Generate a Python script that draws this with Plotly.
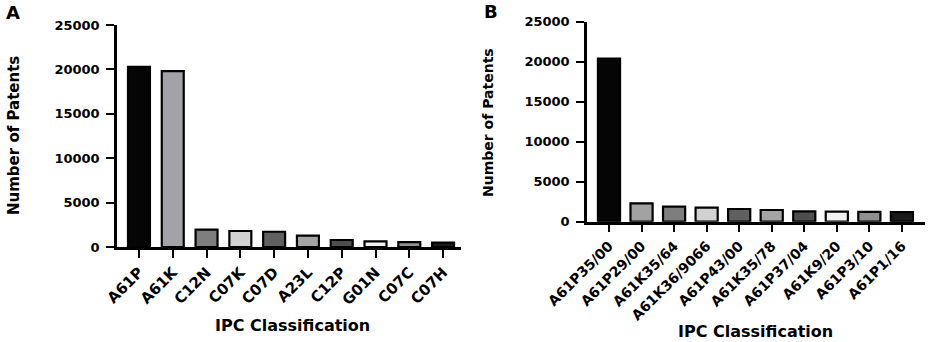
import plotly.graph_objects as go

# ---- data ----
cats_a = ["A61P", "A61K", "C12N", "C07K", "C07D", "A23L", "C12P", "G01N", "C07C", "C07H"]
vals_a = [20300, 19800, 1950, 1800, 1720, 1270, 790, 640, 560, 490]
cats_b = ["A61P35/00", "A61P29/00", "A61K35/64", "A61K36/9066", "A61P43/00",
          "A61K35/78", "A61P37/04", "A61K9/20", "A61P3/10", "A61P1/16"]
vals_b = [20400, 2300, 1875, 1750, 1590, 1460, 1300, 1250, 1230, 1200]
colors_a = ["#050505", "#a2a2a8", "#7e7e7e", "#d2d2d2", "#606060",
            "#a4a4a4", "#4e4e4e", "#f2f2f2", "#909090", "#1a1a1a"]
colors_b = ["#050505", "#a2a2a2", "#7e7e7e", "#d2d2d2", "#606060",
            "#a4a4a4", "#4e4e4e", "#f2f2f2", "#909090", "#1a1a1a"]
yticks = [0, 5000, 10000, 15000, 20000, 25000]
ytick_text = ["0", "5000", "10000", "15000", "20000", "25000"]

W, H = 934, 342
FONT = "DejaVu Sans"

fig = go.Figure()
fig.add_trace(go.Bar(x=cats_a, y=vals_a, xaxis="x", yaxis="y", width=0.65,
                     marker=dict(color=colors_a, line=dict(color="black", width=2.2))))
fig.add_trace(go.Bar(x=cats_b, y=vals_b, xaxis="x2", yaxis="y2", width=0.68,
                     marker=dict(color=colors_b, line=dict(color="black", width=2.2))))

def px_x(p): return p / W
def px_y(p): return 1 - p / H

def tf(s):
    return dict(family=FONT, size=s, color="black", weight="bold")

common_x = dict(showline=True, linecolor="black", linewidth=2.5, ticks="outside",
                ticklen=8, tickwidth=2, tickcolor="black", tickangle=-45,
                showgrid=False, zeroline=False, fixedrange=True, automargin=False)
common_y = dict(showline=True, linecolor="black", linewidth=2.5, ticks="outside",
                ticklen=8, tickwidth=2, tickcolor="black", tickvals=yticks,
                ticktext=ytick_text, automargin=False, tickfont=tf(13),
                showgrid=False, zeroline=False, range=[0, 25000], fixedrange=True,
                ticklabelstandoff=4)

fig.update_layout(
    width=W, height=H, margin=dict(l=0, r=0, t=0, b=0, autoexpand=False),
    paper_bgcolor="white", plot_bgcolor="white", showlegend=False,
    xaxis=dict(domain=[px_x(117), px_x(461)], range=[-0.65, 9.53], anchor="y",
               tickfont=tf(15), **common_x),
    yaxis=dict(domain=[px_y(247), px_y(25)], anchor="x", **common_y),
    xaxis2=dict(domain=[px_x(587), px_x(925)], range=[-0.676, 9.71], anchor="y2",
                tickfont=tf(14), **common_x),
    yaxis2=dict(domain=[px_y(221.7), px_y(21.7)], anchor="x2", **common_y),
)

ann = [
    dict(text="Number of Patents", x=px_x(14), y=px_y(136), textangle=-90, font=tf(15)),
    dict(text="IPC Classification", x=px_x(292), y=px_y(325), font=tf(16)),
    dict(text="Number of Patents", x=px_x(488), y=px_y(122), textangle=-90, font=tf(14)),
    dict(text="IPC Classification", x=px_x(755), y=px_y(331), font=tf(16)),
    dict(text="A", x=px_x(13), y=px_y(12), font=tf(18)),
    dict(text="B", x=px_x(491), y=px_y(11), font=tf(18)),
]
for a in ann:
    fig.add_annotation(xref="paper", yref="paper", showarrow=False,
                       xanchor="center", yanchor="middle", **a)

fig.write_html("out.html", config={"displayModeBar": False},
               post_script="document.body.style.margin='0';document.body.style.overflow='hidden';")
